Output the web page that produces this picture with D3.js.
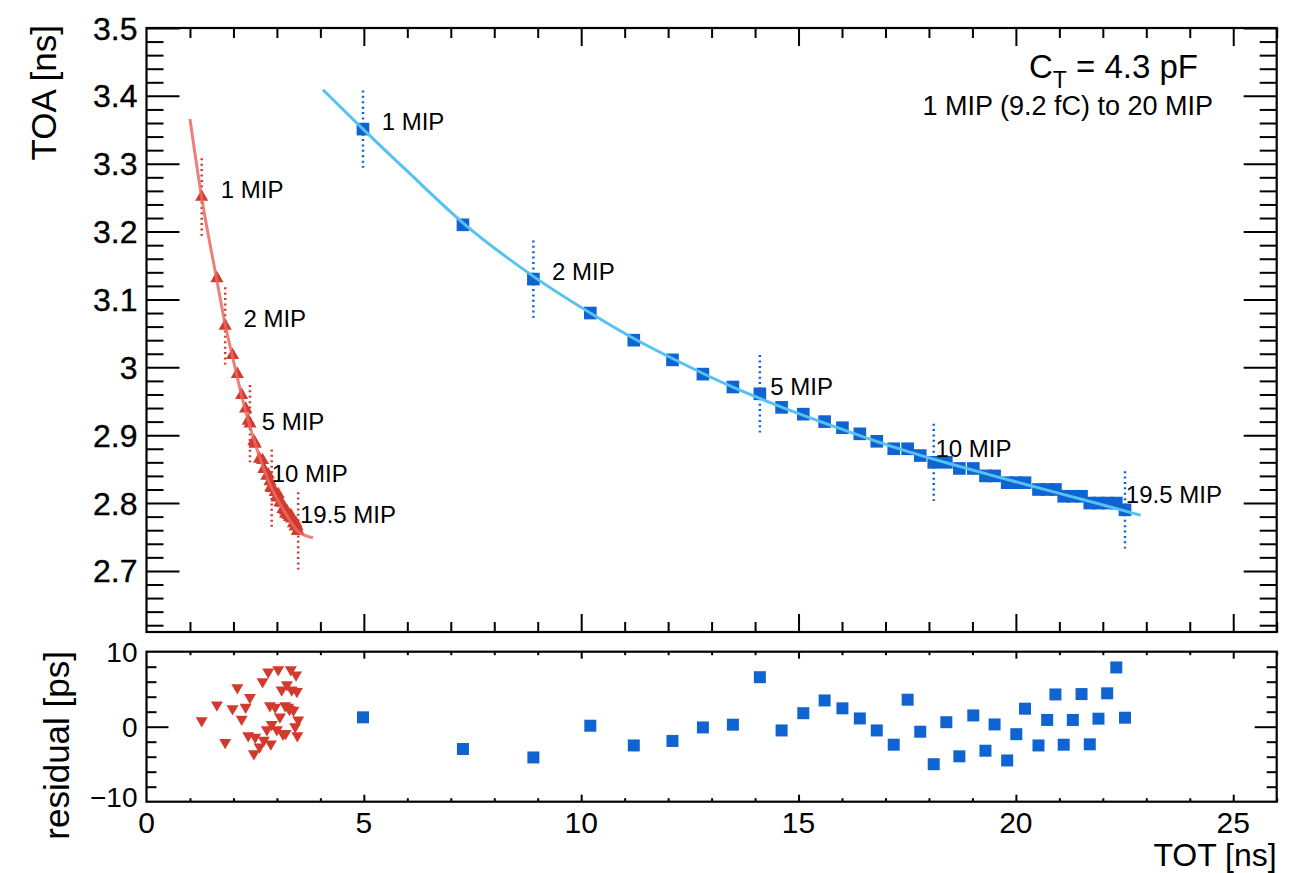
<!DOCTYPE html>
<html><head><meta charset="utf-8">
<script src="https://cdn.jsdelivr.net/npm/d3@7"></script>
<style>body{margin:0;background:#fff} text{font-family:"Liberation Sans",Arial,Helvetica,sans-serif;fill:#000}</style>
</head><body><svg id="c" width="1298" height="873"></svg>
<script>
// ---------- data ----------
const blueTOT=[4.98,7.28,8.90,10.21,11.21,12.10,12.80,13.49,14.11,14.61,15.11,15.60,16.01,16.41,16.80,17.19,17.51,17.80,18.11,18.40,18.70,19.02,19.30,19.51,19.80,20.01,20.21,20.52,20.72,20.91,21.10,21.31,21.51,21.70,21.90,22.10,22.31,22.51];
const blueTOA=[3.351,3.210,3.130,3.080,3.040,3.011,2.990,2.971,2.961,2.941,2.931,2.920,2.911,2.902,2.891,2.880,2.880,2.870,2.860,2.860,2.851,2.851,2.840,2.840,2.830,2.830,2.830,2.820,2.820,2.820,2.810,2.810,2.810,2.800,2.800,2.800,2.800,2.790];
const blueRes=[1.25,-2.97,-4.1,0.13,-2.5,-1.9,-0.1,0.27,6.6,-0.5,1.8,3.5,2.45,1.1,-0.5,-2.4,3.6,-0.67,-5.0,0.6,-3.95,1.5,-3.2,0.3,-4.5,-1.0,2.4,-2.5,0.9,4.3,-2.4,0.9,4.35,-2.35,1.07,4.45,7.9,1.2];
const redTOT=[1.27,1.62,1.81,1.98,2.09,2.19,2.28,2.34,2.38,2.47,2.50,2.60,2.67,2.70,2.77,2.80,2.84,2.86,2.88,2.96,3.00,3.03,3.07,3.11,3.14,3.19,3.20,3.23,3.26,3.29,3.32,3.34,3.38,3.42,3.44,3.46,3.47,3.49];
const redTOA=[3.251,3.131,3.061,3.018,2.990,2.959,2.939,2.921,2.917,2.891,2.887,2.865,2.863,2.850,2.840,2.842,2.832,2.823,2.822,2.816,2.808,2.813,2.801,2.800,2.791,2.789,2.784,2.788,2.782,2.779,2.782,2.777,2.770,2.765,2.770,2.766,2.759,2.759];
const redRes=[0.8,2.9,-2.1,2.4,5.2,1.0,2.6,-1.2,3.9,-3.6,-1.4,-2.7,6.0,-1.8,-0.4,7.3,2.8,-2.3,0.3,2.6,-0.4,7.6,1.3,4.9,-1.0,2.8,-0.9,5.6,2.6,2.3,7.6,4.9,2.2,0.0,6.9,4.7,-1.2,0.9];
const blueFitTOT=[4.06,5.0,6.0,7.28,8.9,10.21,11.21,12.1,13.49,14.61,16.01,17.19,18.4,19.51,20.72,21.9,22.87];
const blueFitTOA=[3.409,3.350,3.289,3.213,3.134,3.080,3.0425,3.013,2.9707,2.9415,2.9085,2.8824,2.8594,2.8397,2.8191,2.7989,2.782];
const redFitTOT=[1.0,1.27,1.62,1.81,2.0,2.2,2.38,2.6,2.88,3.2,3.49,3.83];
const redFitTOA=[3.366,3.250,3.128,3.063,3.010,2.955,2.913,2.868,2.822,2.785,2.758,2.749];
const mipLabels=["1 MIP","2 MIP","5 MIP","10 MIP","19.5 MIP"];
const mipIndex=[0,2,8,18,37];
const toaError=0.057;
const blueLabelTOT=[5.41,9.33,14.35,18.15,22.53];
const blueLabelTOA=[3.350,3.129,2.959,2.868,2.800];
const redLabelTOT=[1.71,2.23,2.65,2.88,3.53];
const redLabelTOA=[3.250,3.060,2.908,2.831,2.771];
const xTicks=[0,5,10,15,20,25];
const yTicksTop=[2.7,2.8,2.9,3.0,3.1,3.2,3.3,3.4,3.5];
const yTicksRes=[-10,0,10];

// ---------- layout ----------
const svg=d3.select("#c");
const X0=146.5,X1=1276.7;
const x=d3.scaleLinear([0,26],[X0,X1]);
const yT=d3.scaleLinear([2.61,3.5],[632,28]);
const yR=d3.scaleLinear([-10,10],[801.7,651.7]);
const BLUE="#1064d2", BLUELINE="#55c2f2", RED="#d23a2e", REDLINE="#e96a64";
const minorX=d3.range(0,27,1).filter(v=>v%5!==0);
const minorYT=d3.range(2.62,3.49,0.02).map(v=>+v.toFixed(2)).filter(v=>Math.abs(v*10-Math.round(v*10))>1e-6);
const minorYR=d3.range(-8,10,2).filter(v=>v!==0);

function ticks(g, axisFn, scale, vals, size){
  g.call(axisFn(scale).tickValues(vals).tickSize(size).tickFormat(""))
   .call(s=>s.select(".domain").remove())
   .selectAll("line").attr("stroke","#000").attr("stroke-width",2);
}
function frame(yScale, xs){
  const [ya,yb]=yScale.range();
  ticks(svg.append("g").attr("transform",`translate(0,${ya})`),d3.axisBottom,x,xTicks.filter(v=>v>0),-xs[0]);
  ticks(svg.append("g").attr("transform",`translate(0,${ya})`),d3.axisBottom,x,minorX,-xs[1]);
  ticks(svg.append("g").attr("transform",`translate(0,${yb})`),d3.axisTop,x,xTicks.filter(v=>v>0),-xs[0]);
  ticks(svg.append("g").attr("transform",`translate(0,${yb})`),d3.axisTop,x,minorX,-xs[1]);
  svg.append("rect").attr("x",X0).attr("y",yb).attr("width",X1-X0).attr("height",ya-yb)
    .attr("fill","none").attr("stroke","#000").attr("stroke-width",2.2);
}

// top panel frame + ticks
frame(yT,[18,10]);
ticks(svg.append("g").attr("transform",`translate(${X0},0)`),d3.axisLeft,yT,yTicksTop,-33);
ticks(svg.append("g").attr("transform",`translate(${X0},0)`),d3.axisLeft,yT,minorYT,-17);
ticks(svg.append("g").attr("transform",`translate(${X1},0)`),d3.axisRight,yT,yTicksTop,-33);
ticks(svg.append("g").attr("transform",`translate(${X1},0)`),d3.axisRight,yT,minorYT,-17);
svg.append("g").selectAll("text").data(yTicksTop).join("text")
  .attr("x",X0-9).attr("y",d=>yT(d)).attr("dy","0.36em").attr("text-anchor","end")
  .attr("font-size",32).attr("stroke","#000").attr("stroke-width",0.35)
  .text(d=>d3.format("~g")(d));

// residual frame + ticks
frame(yR,[7,3.5]);
ticks(svg.append("g").attr("transform",`translate(${X0},0)`),d3.axisLeft,yR,[0],-22);
ticks(svg.append("g").attr("transform",`translate(${X0},0)`),d3.axisLeft,yR,minorYR,-10);
ticks(svg.append("g").attr("transform",`translate(${X1},0)`),d3.axisRight,yR,[0],-22);
ticks(svg.append("g").attr("transform",`translate(${X1},0)`),d3.axisRight,yR,minorYR,-10);
svg.append("g").selectAll("text").data(yTicksRes).join("text")
  .attr("x",X0-9).attr("y",d=>yR(d)).attr("dy",d=>d<0?"0.2em":"0.36em").attr("text-anchor","end")
  .attr("font-size",28).text(d=>d3.format("~g")(d));
svg.append("g").selectAll("text").data(xTicks).join("text")
  .attr("x",d=>x(d)).attr("y",833).attr("text-anchor","middle")
  .attr("font-size",30).text(d=>d);

// axis titles
svg.append("text").attr("transform","translate(56,25) rotate(-90)").attr("text-anchor","end")
  .attr("font-size",35).text("TOA [ns]");
svg.append("text").attr("transform","translate(69,651) rotate(-90)").attr("text-anchor","end")
  .attr("font-size",35).text("residual [ps]");
svg.append("text").attr("x",X1).attr("y",866).attr("text-anchor","end")
  .attr("font-size",32).text("TOT [ns]");

// annotations
const ct=svg.append("text").attr("x",1198).attr("y",78).attr("text-anchor","end").attr("font-size",33);
ct.append("tspan").text("C");
ct.append("tspan").attr("dy",10).attr("font-size",23).text("T");
ct.append("tspan").attr("dy",-10).text(" = 4.3 pF");
svg.append("text").attr("x",1213).attr("y",115).attr("text-anchor","end").attr("font-size",27)
  .text("1 MIP (9.2 fC) to 20 MIP");

// ---------- top panel data ----------
function series(tot,toa,color,sym,size){
  svg.append("g").selectAll("line").data(mipIndex).join("line")
    .attr("x1",i=>x(tot[i])).attr("x2",i=>x(tot[i]))
    .attr("y1",i=>yT(toa[i]+toaError)).attr("y2",i=>yT(toa[i]-toaError))
    .attr("stroke",color).attr("stroke-width",2.5).attr("stroke-dasharray","2,3.4");
  svg.append("g").selectAll("path").data(tot).join("path")
    .attr("transform",(d,i)=>`translate(${x(d)},${yT(toa[i])})`)
    .attr("d",d3.symbol(sym,size)()).attr("fill",color);
}
series(blueTOT,blueTOA,BLUE,d3.symbolSquare,160);
series(redTOT,redTOA,RED,d3.symbolTriangle,75);

const line=d3.line().x(d=>x(d[0])).y(d=>yT(d[1])).curve(d3.curveMonotoneX);
svg.append("path").attr("d",line(blueFitTOT.map((t,i)=>[t,blueFitTOA[i]])))
  .attr("fill","none").attr("stroke",BLUELINE).attr("stroke-width",3);
svg.append("path").attr("d",line(redFitTOT.map((t,i)=>[t,redFitTOA[i]])))
  .attr("fill","none").attr("stroke",REDLINE).attr("stroke-width",3).attr("stroke-opacity",0.85);

// MIP labels
svg.append("g").selectAll("text").data(mipLabels).join("text")
  .attr("x",(d,i)=>x(blueLabelTOT[i])).attr("y",(d,i)=>yT(blueLabelTOA[i]))
  .attr("font-size",24).text(d=>d);
svg.append("g").selectAll("text").data(mipLabels).join("text")
  .attr("x",(d,i)=>x(redLabelTOT[i])).attr("y",(d,i)=>yT(redLabelTOA[i]))
  .attr("font-size",24).text(d=>d);

// ---------- residual panel ----------
svg.append("g").selectAll("path").data(redTOT).join("path")
  .attr("transform",(d,i)=>`translate(${x(d)},${yR(redRes[i])}) rotate(180)`)
  .attr("d",d3.symbol(d3.symbolTriangle,62)()).attr("fill",RED);
svg.append("g").selectAll("path").data(blueTOT).join("path")
  .attr("transform",(d,i)=>`translate(${x(d)},${yR(blueRes[i])})`)
  .attr("d",d3.symbol(d3.symbolSquare,144)()).attr("fill",BLUE);
</script></body></html>
